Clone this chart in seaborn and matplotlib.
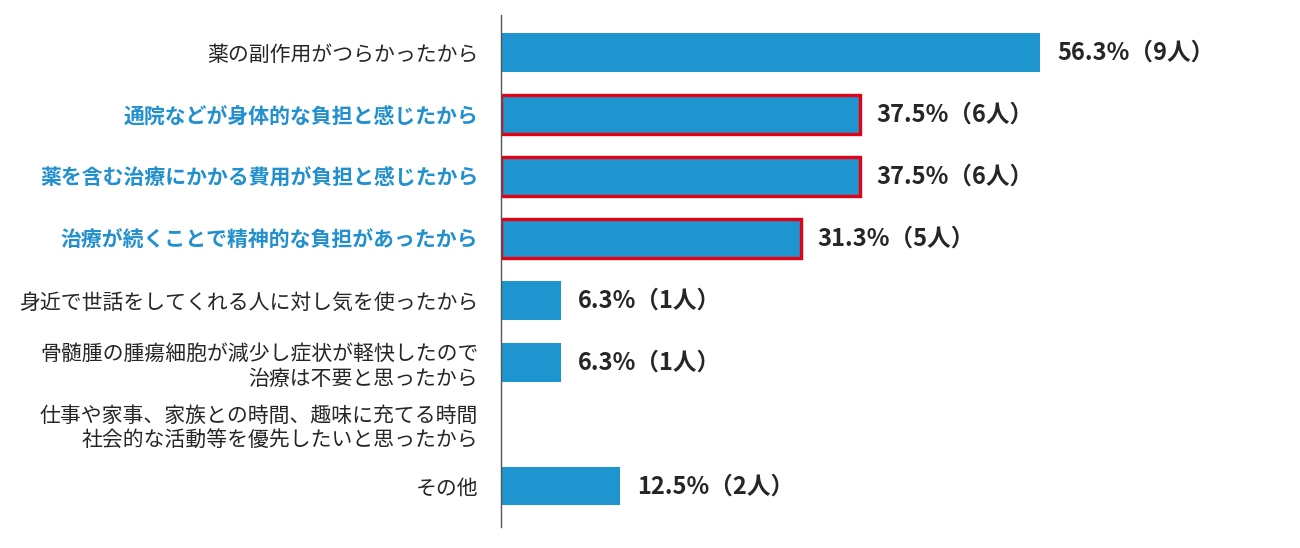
import matplotlib
matplotlib.use("Agg")
import matplotlib.pyplot as plt
import seaborn as sns
import pandas as pd

# Data
reasons = [
    "薬の副作用がつらかったから",
    "通院などが身体的な負担と感じたから",
    "薬を含む治療にかかる費用が負担と感じたから",
    "治療が続くことで精神的な負担があったから",
    "身近で世話をしてくれる人に対し気を使ったから",
    "骨髄腫の腫瘍細胞が減少し症状が軽快したので\n治療は不要と思ったから",
    "仕事や家事、家族との時間、趣味に充てる時間\n社会的な活動等を優先したいと思ったから",
    "その他",
]
percents = [56.3, 37.5, 37.5, 31.3, 6.3, 6.3, 0.0, 12.5]
people = [9, 6, 6, 5, 1, 1, 0, 2]
highlighted = [False, True, True, True, False, False, False, False]

bar_color = "#1f95d0"
label_blue = "#2290cf"
text_dark = "#262626"

sns.set_theme(style="white")
plt.rcParams["font.family"] = ["Noto Sans CJK JP", "DejaVu Sans"]

df = pd.DataFrame({"reason": reasons, "percent": percents})

fig = plt.figure(figsize=(13, 5.48), dpi=100)
ax = fig.add_axes([0.385, 0.038, 0.615, 0.935])

sns.barplot(data=df, x="percent", y="reason", orient="h", color=bar_color,
            saturation=1, width=0.62, ax=ax)

# Red frames around the highlighted bars
for patch, hl in zip(ax.patches, highlighted):
    if hl:
        patch.set_edgecolor("#e60012")
        patch.set_linewidth(2.4)
    else:
        patch.set_edgecolor("none")

# Value labels
for i, (p, n) in enumerate(zip(percents, people)):
    if n == 0:
        continue
    ax.annotate(f"{p:.1f}%（{n}人）", xy=(p, i), xytext=(12, 0),
                textcoords="offset points", va="center", ha="left",
                fontsize=17, fontweight="bold", color=text_dark)

ax.set_xlim(0, 83.4)
ax.set_ylim(7.66, -0.61)
ax.set_xlabel("")
ax.set_ylabel("")
ax.set_xticks([])

for side in ["top", "right", "bottom"]:
    ax.spines[side].set_visible(False)
ax.spines["left"].set_color("#555555")
ax.spines["left"].set_linewidth(1.0)

ax.tick_params(axis="y", length=0, pad=16)
for lbl, hl in zip(ax.get_yticklabels(), highlighted):
    lbl.set_fontsize(15)
    if hl:
        lbl.set_color(label_blue)
        lbl.set_fontweight("bold")
    else:
        lbl.set_color(text_dark)

fig.savefig("out.png", dpi=100)
